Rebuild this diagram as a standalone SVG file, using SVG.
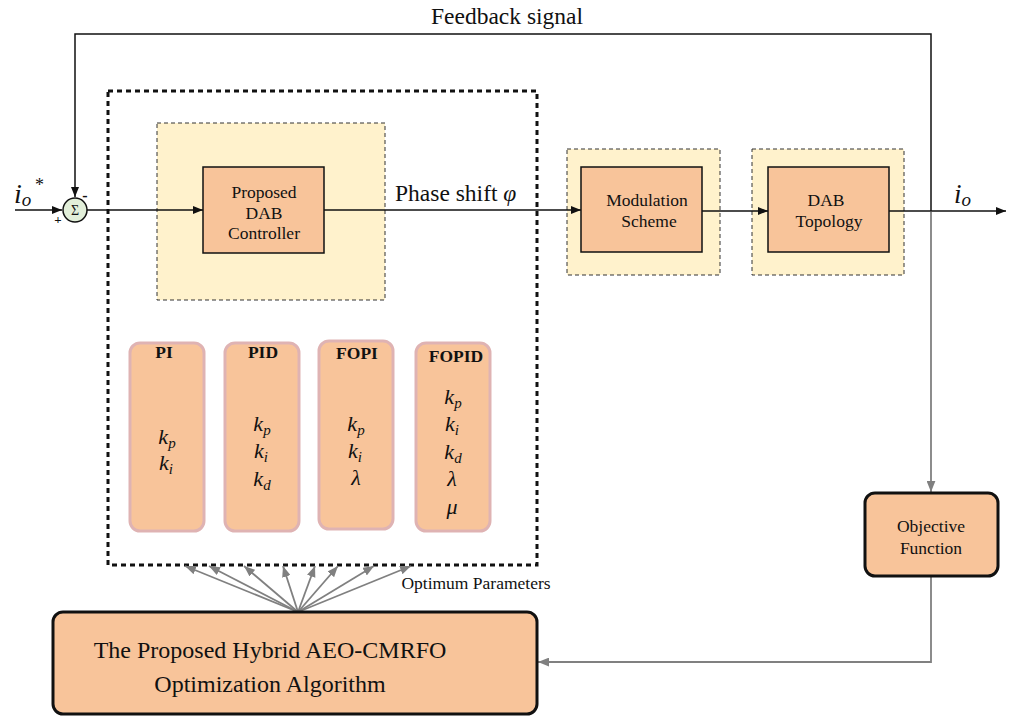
<svg xmlns="http://www.w3.org/2000/svg" width="1009" height="716" viewBox="0 0 1009 716" font-family="'Liberation Serif', 'DejaVu Serif', serif">
  <style>
    text { font-family: "Liberation Serif", "DejaVu Serif", serif; fill: #111; }
    .lbl { font-size: 17.5px; text-anchor: middle; }
    .hd { font-size: 17.5px; font-weight: bold; text-anchor: middle; }
    .var { font-size: 22px; font-style: italic; text-anchor: middle; }
    .sub { font-size: 15px; }
    .blk { fill: #f8c49a; stroke: #111; stroke-width: 1.5; }
    .zone { fill: #fff2cc; stroke: #333; stroke-width: 1; stroke-dasharray: 4 3; }
    .ctl { fill: #f8c49a; stroke: #dfb3b3; stroke-width: 3; }
    .thick { fill: #f8c49a; stroke: #111; stroke-width: 3; }
    .wire { fill: none; stroke: #111; stroke-width: 1.5; }
    .gwire { fill: none; stroke: #808080; stroke-width: 1.8; }
  </style>
  <defs>
    <marker id="ah" viewBox="0 0 10 8" refX="10" refY="4" markerWidth="10" markerHeight="8" markerUnits="userSpaceOnUse" orient="auto">
      <path d="M0,0 L10,4 L0,8 Z" fill="#111"/>
    </marker>
    <marker id="gah" viewBox="0 0 10 8" refX="10" refY="4" markerWidth="11" markerHeight="9" markerUnits="userSpaceOnUse" orient="auto">
      <path d="M0,0 L10,4 L0,8 Z" fill="#808080"/>
    </marker>
  </defs>

  <rect width="1009" height="716" fill="#fff"/>

  <!-- Controller design region (dotted frame) -->
  <g id="design-frame">
    <rect x="108" y="91" width="429" height="474" fill="none" stroke="#111" stroke-width="3" stroke-dasharray="5 4"/>
  </g>

  <!-- Yellow zones -->
  <g id="zone-controller"><rect class="zone" x="157" y="123" width="228" height="177"/></g>
  <g id="zone-modulation"><rect class="zone" x="567" y="149" width="153" height="126"/></g>
  <g id="zone-topology"><rect class="zone" x="752" y="149" width="152" height="126"/></g>

  <!-- Connectors -->
  <g id="connectors">
    <!-- feedback loop -->
    <polyline class="wire" points="931,211 931,34 75,34 75,197" marker-end="url(#ah)"/>
    <!-- reference input -->
    <line class="wire" x1="15" y1="210" x2="62" y2="210" marker-end="url(#ah)"/>
    <!-- error to controller -->
    <line class="wire" x1="87" y1="210" x2="203" y2="210" marker-end="url(#ah)"/>
    <!-- phase shift -->
    <line class="wire" x1="324" y1="210" x2="581" y2="210" marker-end="url(#ah)"/>
    <!-- modulation to topology -->
    <line class="wire" x1="702" y1="211" x2="768" y2="211" marker-end="url(#ah)"/>
    <!-- output -->
    <line class="wire" x1="889" y1="211" x2="1006" y2="211" marker-end="url(#ah)"/>
    <!-- output sample to objective function -->
    <line class="gwire" x1="931" y1="212" x2="931" y2="492" marker-end="url(#gah)"/>
    <!-- objective to optimizer -->
    <polyline class="gwire" points="931,576 931,662 538,662" marker-end="url(#gah)"/>
    <!-- optimum parameters fan -->
    <g class="fan">
      <line class="gwire" x1="298" y1="612" x2="185" y2="566" marker-end="url(#gah)"/>
      <line class="gwire" x1="298" y1="612" x2="209" y2="566" marker-end="url(#gah)"/>
      <line class="gwire" x1="298" y1="612" x2="244" y2="566" marker-end="url(#gah)"/>
      <line class="gwire" x1="298" y1="612" x2="283" y2="566" marker-end="url(#gah)"/>
      <line class="gwire" x1="298" y1="612" x2="315" y2="566" marker-end="url(#gah)"/>
      <line class="gwire" x1="298" y1="612" x2="338" y2="566" marker-end="url(#gah)"/>
      <line class="gwire" x1="298" y1="612" x2="374" y2="566" marker-end="url(#gah)"/>
      <line class="gwire" x1="298" y1="612" x2="411" y2="566" marker-end="url(#gah)"/>
    </g>
  </g>

  <!-- Summing junction -->
  <g id="sum">
    <circle cx="75" cy="210" r="12" fill="#e2efd9" stroke="#111" stroke-width="1.5"/>
    <text x="75" y="215" font-size="14" text-anchor="middle">Σ</text>
    <text x="58" y="224" font-size="13" font-weight="bold" text-anchor="middle">+</text>
    <text x="85" y="201" font-size="16" font-weight="bold" text-anchor="middle">-</text>
  </g>

  <!-- Signal labels -->
  <g id="labels">
    <text x="14" y="203" font-size="28" font-style="italic">i<tspan font-size="19" dy="3">o</tspan></text>
    <text x="35" y="191" font-size="18">*</text>
    <text x="954" y="203" font-size="27" font-style="italic">i<tspan font-size="19" dy="3">o</tspan></text>
    <text x="395" y="201" font-size="23.5">Phase shift <tspan font-style="italic">φ</tspan></text>
    <text x="507" y="24" font-size="23.5" text-anchor="middle">Feedback signal</text>
    <text x="476" y="589" font-size="17.5" text-anchor="middle">Optimum Parameters</text>
  </g>

  <g id="controller">
    <rect class="blk" x="203" y="167" width="121" height="86"/>
    <text class="lbl" x="264" y="198">Proposed</text>
    <text class="lbl" x="264" y="219">DAB</text>
    <text class="lbl" x="264" y="239">Controller</text>
  </g>

  <g id="modulation">
    <rect class="blk" x="581" y="167" width="121" height="85"/>
    <text class="lbl" x="647" y="206">Modulation</text>
    <text class="lbl" x="649" y="227">Scheme</text>
  </g>

  <g id="topology">
    <rect class="blk" x="768" y="167" width="121" height="85"/>
    <text class="lbl" x="826" y="206">DAB</text>
    <text class="lbl" x="829" y="227">Topology</text>
  </g>

  <g id="ctrl-pi">
    <rect class="ctl" x="130" y="343" width="74" height="188" rx="10"/>
    <text class="hd" x="164" y="358">PI</text>
    <text class="var" x="167" y="444">k<tspan class="sub" dy="4">p</tspan></text>
    <text class="var" x="166" y="470">k<tspan class="sub" dy="4">i</tspan></text>
  </g>

  <g id="ctrl-pid">
    <rect class="ctl" x="225" y="343" width="74" height="188" rx="10"/>
    <text class="hd" x="263" y="358">PID</text>
    <text class="var" x="262" y="431">k<tspan class="sub" dy="4">p</tspan></text>
    <text class="var" x="261" y="458">k<tspan class="sub" dy="4">i</tspan></text>
    <text class="var" x="262" y="486">k<tspan class="sub" dy="4">d</tspan></text>
  </g>

  <g id="ctrl-fopi">
    <rect class="ctl" x="319" y="341" width="74" height="188" rx="10"/>
    <text class="hd" x="357" y="359">FOPI</text>
    <text class="var" x="356" y="431">k<tspan class="sub" dy="4">p</tspan></text>
    <text class="var" x="355" y="458">k<tspan class="sub" dy="4">i</tspan></text>
    <text class="var" x="356" y="485">λ</text>
  </g>

  <g id="ctrl-fopid">
    <rect class="ctl" x="416" y="343" width="74" height="188" rx="10"/>
    <text class="hd" x="456" y="362">FOPID</text>
    <text class="var" x="453" y="404">k<tspan class="sub" dy="4">p</tspan></text>
    <text class="var" x="452" y="431">k<tspan class="sub" dy="4">i</tspan></text>
    <text class="var" x="453" y="459">k<tspan class="sub" dy="4">d</tspan></text>
    <text class="var" x="452" y="486">λ</text>
    <text class="var" x="452" y="514">μ</text>
  </g>

  <g id="objective">
    <rect class="thick" x="865" y="493" width="133" height="83" rx="10"/>
    <text class="lbl" x="931" y="532">Objective</text>
    <text class="lbl" x="931" y="554">Function</text>
  </g>

  <g id="optimizer">
    <rect class="thick" x="53" y="612" width="484" height="102" rx="10"/>
    <text x="270" y="658" font-size="24" text-anchor="middle">The Proposed Hybrid AEO-CMRFO</text>
    <text x="270" y="692" font-size="24" text-anchor="middle">Optimization Algorithm</text>
  </g>
</svg>
